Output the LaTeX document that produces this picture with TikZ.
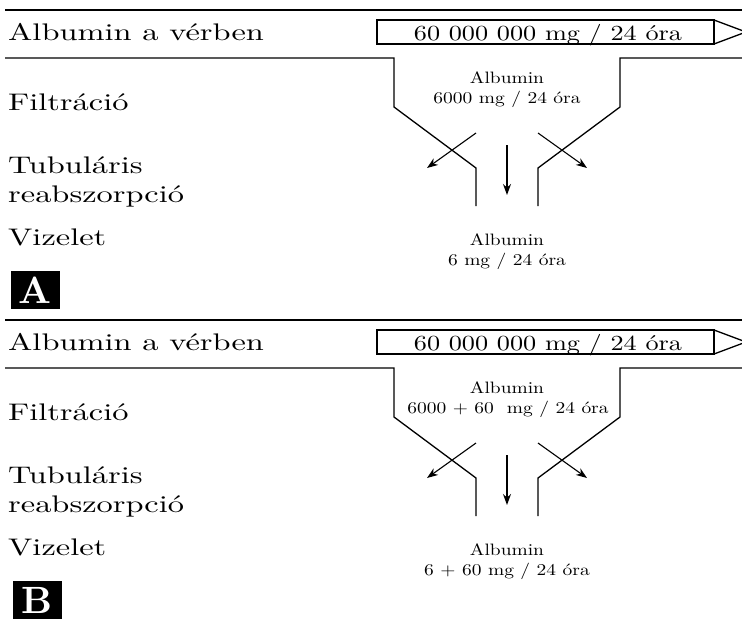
\documentclass[tikz,border=0pt]{standalone}
\usepackage{fontspec}
\usetikzlibrary{arrows.meta}
\newfontfamily\labfont{lmroman10-regular.otf}[FakeStretch=1.35]
\newfontfamily\boxfont{lmroman10-regular.otf}[FakeStretch=1.22]
\newfontfamily\midfont{lmroman10-regular.otf}[FakeStretch=1.18]
\newfontfamily\letfont{lmroman10-bold.otf}
\tikzset{
  rule/.style={line width=1.3pt},
  wall/.style={line width=1.3pt, line join=miter},
  flow/.style={line width=1.1pt,-{Stealth[length=11pt,width=8pt]}},
  lab/.style={anchor=base west,inner sep=0,font=\labfont\fontsize{24}{28}\selectfont},
  small/.style={anchor=base,inner sep=0,font=\midfont\fontsize{16.5}{19}\selectfont},
  boxtext/.style={anchor=base,inner sep=0,font=\boxfont\fontsize{21.5}{25}\selectfont},
  tag/.style={fill=black,text=white,inner sep=0,minimum width=49pt,minimum height=38pt,font=\letfont\fontsize{38}{40}\selectfont},
}
\newcommand\drawpanel[5]{%
  \node[lab] (l1) at (8,40) {Albumin a vérben};
  \node[lab] (l2) at (8,110) {Filtráció};
  \node[lab] (l3) at (8,173) {Tubuláris};
  \node[lab] (l4) at (8,202) {reabszorpció};
  \node[lab] (l5) at (8,245) {Vizelet};
  \draw[rule] (5,10) -- (742,10);
  \draw[rule] (377,20) rectangle (714,44);
  \draw[rule] (714,20) -- (746,32) -- (714,44);
  \node[boxtext] (bt) at (548,40) {60 000 000 mg / 24 óra};
  \draw[wall] (5,58) -- (394,58) -- (394,107) -- (476,168) -- (476,206);
  \draw[wall] (742,58) -- (620,58) -- (620,107) -- (538,168) -- (538,206);
  \node[small] (f1) at (507,83) {Albumin};
  \node[small] (f2) at (#4,103) {#2};
  \node[small] (u1) at (507,245) {Albumin};
  \node[small] (u2) at (507,265) {#3};
  \coordinate (ls) at (476,133); \coordinate (le) at (427,168);
  \coordinate (rs) at (538,133); \coordinate (re) at (587,168);
  \coordinate (cs) at (507,145); \coordinate (ce) at (507,195);
  \draw[flow] (ls) -- (le);
  \draw[flow] (rs) -- (re);
  \draw[flow] (cs) -- (ce);
  \node[tag] (tg) at (#5) {#1};
}
\begin{document}
\begin{tikzpicture}[x=1pt,y=-1pt]
\useasboundingbox (0,0) rectangle (742,619);
\begin{scope}[name prefix=A-]
  \drawpanel{A}{6000 mg / 24 óra}{6 mg / 24 óra}{507}{35.5,290}
\end{scope}
\begin{scope}[name prefix=B-, yshift=-310pt]
  \drawpanel{B}{6000 + 60\ \ mg / 24 óra}{6 + 60 mg / 24 óra}{508}{37,290}
\end{scope}
\end{tikzpicture}
\end{document}
